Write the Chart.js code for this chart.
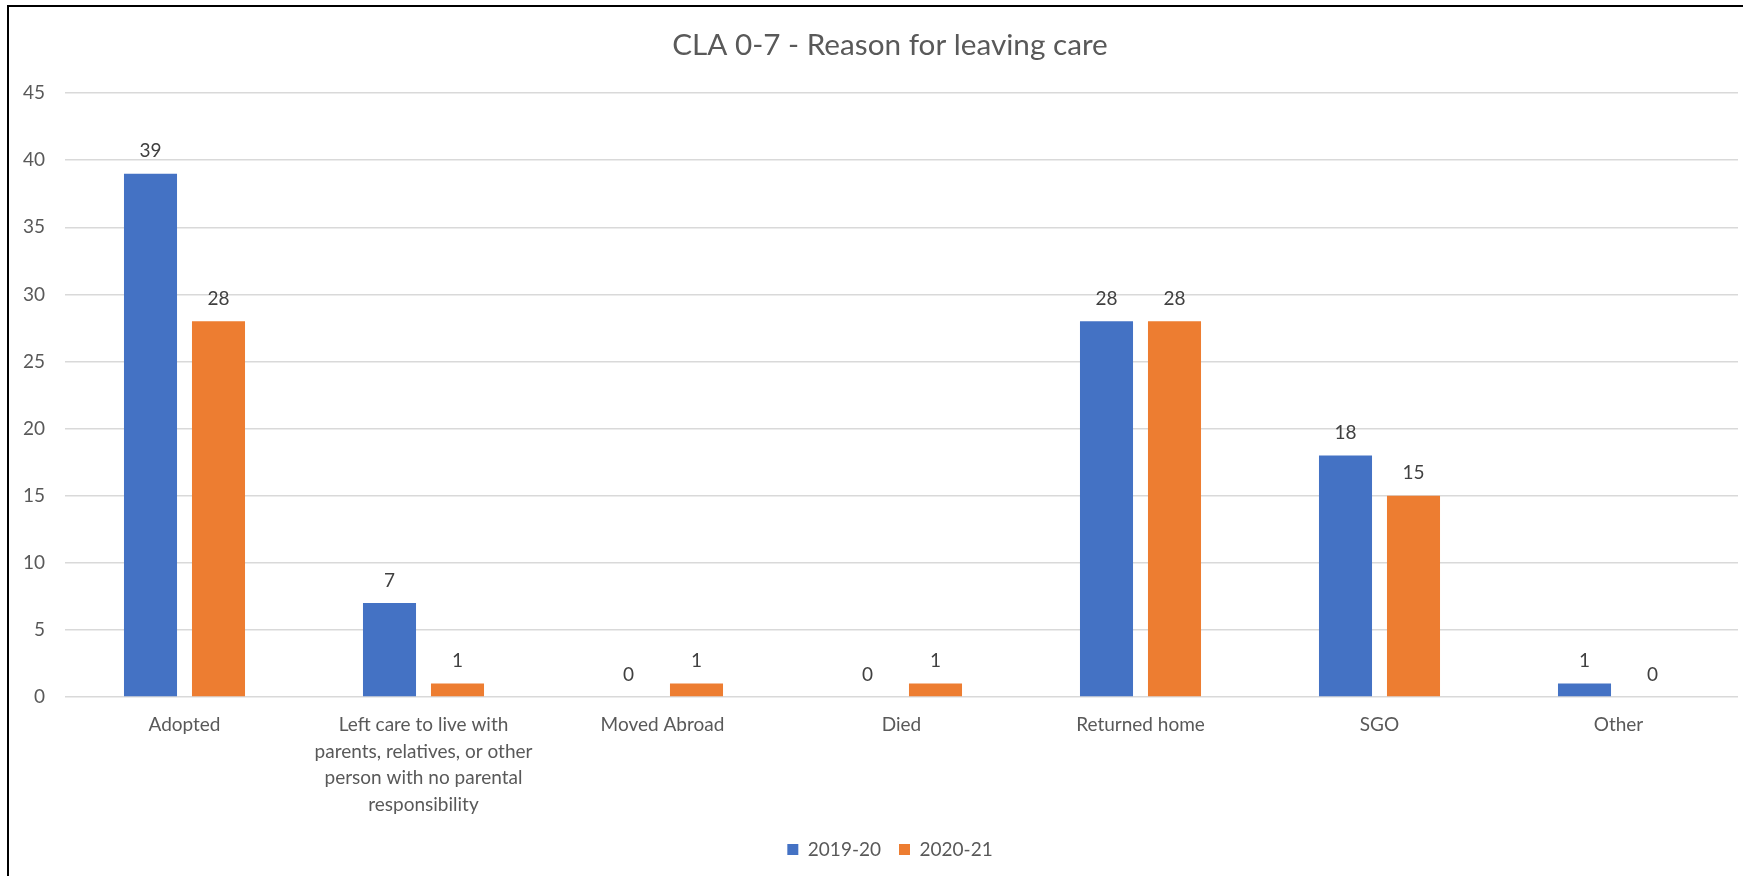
<!DOCTYPE html>
<html>
<head>
<meta charset="utf-8">
<script src="https://cdn.jsdelivr.net/npm/chart.js@4/dist/chart.umd.min.js"></script>
<style>
  html, body { margin: 0; padding: 0; background: #fff; overflow: hidden; width: 1743px; height: 876px; }
  #frame {
    position: absolute; left: 7px; top: 5px;
    width: 1764px; height: 871px;
    border-left: 2px solid #000; border-top: 2px solid #000;
  }
  #wrap { position: absolute; left: 0; top: 0; width: 1762px; height: 869px; }
</style>
</head>
<body>
<div id="frame"><div id="wrap"><canvas id="c"></canvas></div></div>
<script>
const titleText = 'CLA 0-7 - Reason for leaving care';
const categories = [
  'Adopted',
  ['Left care to live with', 'parents, relatives, or other', 'person with no parental', 'responsibility'],
  'Moved Abroad',
  'Died',
  'Returned home',
  'SGO',
  'Other'
];
const seriesNames = ['2019-20', '2020-21'];
const values2019 = [39, 7, 0, 0, 28, 18, 1];
const values2020 = [28, 1, 1, 1, 28, 15, 0];
const yTicks = [0, 5, 10, 15, 20, 25, 30, 35, 40, 45];

const FONT = 'Lato, "Open Sans", sans-serif';

const dataLabels = {
  id: 'dataLabels',
  afterDatasetsDraw(chart) {
    const ctx = chart.ctx;
    ctx.save();
    ctx.font = '19px ' + FONT;
    ctx.fillStyle = '#404040';
    ctx.textAlign = 'center';
    ctx.textBaseline = 'middle';
    chart.data.datasets.forEach((ds, di) => {
      const meta = chart.getDatasetMeta(di);
      meta.data.forEach((el, i) => {
        ctx.fillText(String(ds.data[i]), el.x, el.y - 22.5);
      });
    });
    ctx.restore();
  }
};

new Chart(document.getElementById('c'), {
  type: 'bar',
  data: {
    labels: categories,
    datasets: [
      { label: seriesNames[0], data: values2019, backgroundColor: '#4472C4', categoryPercentage: 0.569, barPercentage: 0.78 },
      { label: seriesNames[1], data: values2020, backgroundColor: '#ED7D31', categoryPercentage: 0.569, barPercentage: 0.78 }
    ]
  },
  options: {
    responsive: true,
    maintainAspectRatio: false,
    animation: false,
    layout: { padding: { left: 0, right: 0, top: 0, bottom: 7 } },
    plugins: {
      title: {
        display: true,
        text: titleText,
        color: '#595959',
        font: { family: FONT, size: 29.7, weight: 'normal', lineHeight: 1.2 },
        padding: { top: 20.7, bottom: 29.8 }
      },
      legend: {
        display: true,
        position: 'bottom',
        labels: {
          color: '#595959',
          font: { family: FONT, size: 19 },
          boxWidth: 11,
          boxHeight: 11,
          padding: 18
        }
      },
      tooltip: { enabled: false }
    },
    scales: {
      x: {
        grid: { display: false, drawTicks: false },
        border: { display: false },
        ticks: {
          color: '#595959',
          font: { family: FONT, size: 19, lineHeight: 1.4 },
          padding: 14.7,
          maxRotation: 0,
          autoSkip: false
        },
        afterFit(scale) { scale.height = 125; }
      },
      y: {
        min: 0,
        max: 45,
        afterBuildTicks(scale) { scale.ticks = yTicks.map(v => ({ value: v })); },
        grid: { color: '#D9D9D9', lineWidth: 1.5, drawTicks: false },
        border: { display: false },
        ticks: {
          color: '#595959',
          font: { family: FONT, size: 19 },
          padding: 20
        },
        afterFit(scale) { scale.width = 56; }
      },
      yRightSpace: {
        position: 'right',
        display: true,
        grid: { display: false, drawTicks: false },
        border: { display: false },
        ticks: { display: false },
        afterFit(scale) { scale.width = 33; }
      }
    }
  },
  plugins: [dataLabels]
});
</script>
</body>
</html>
